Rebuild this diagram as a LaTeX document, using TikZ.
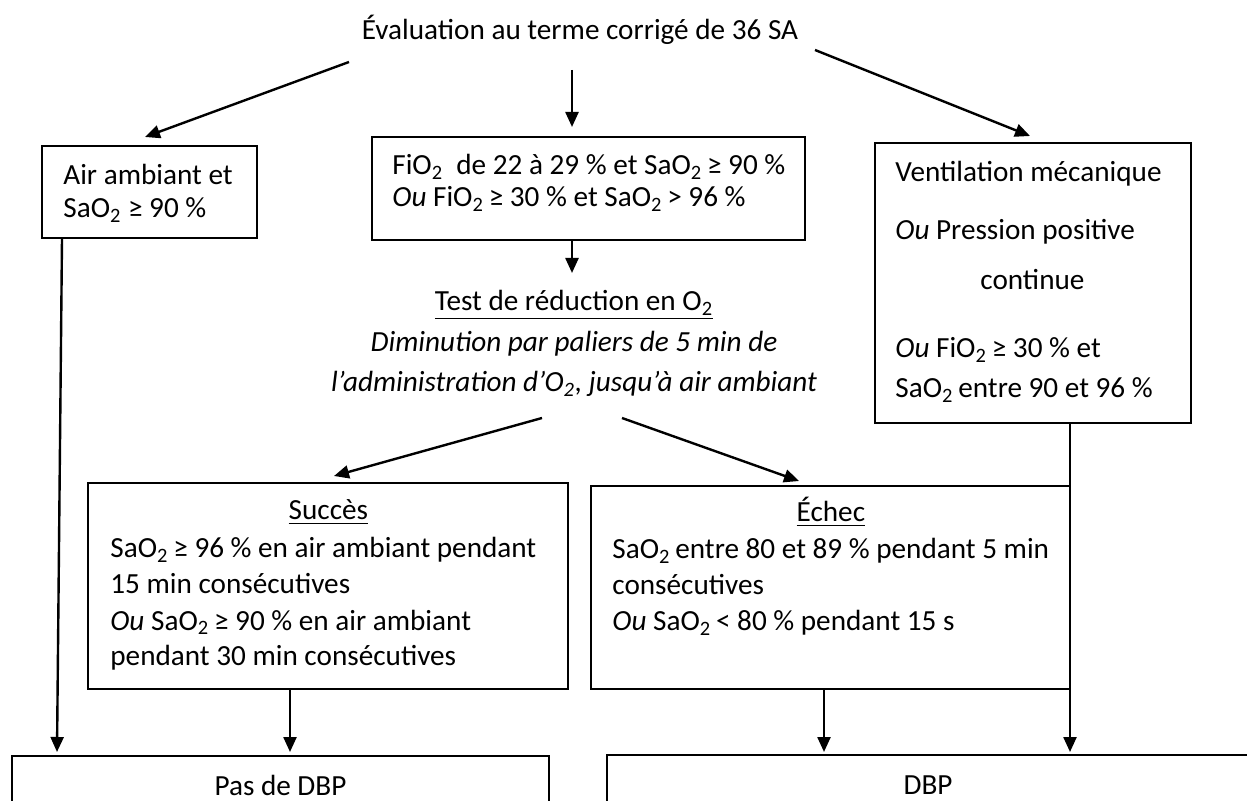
\documentclass[tikz,border=0pt]{standalone}
\usepackage{fontspec}
\setmainfont{Carlito}
\usetikzlibrary{arrows.meta, calc}

\tikzset{
  box/.style={draw, line width=1pt, inner sep=0pt},
  txt/.style={inner sep=0pt, anchor=base west, align=left, text width=#1,
    execute at begin node={\spaceskip=0pt\xspaceskip=0pt}},
  txt/.default=250pt,
  midtxt/.style={txt=280pt, anchor=base, align=center,
    execute at begin node={\spaceskip=0pt\xspaceskip=0pt\leftskip=0pt plus 1fil\rightskip=0pt plus 1fil}},
  flow/.style={line width=1.2pt, -{Triangle[length=7.5pt, width=6.5pt]}},
}

\begin{document}
\begin{tikzpicture}[x=0.5pt, y=-0.5pt, every node/.append style={font={\fontsize{14.6pt}{18pt}\selectfont}}]
  \useasboundingbox (0,0) rectangle (1247,801);

  % Start
  \node[inner sep=0pt, anchor=base] (eval) at (580,40) {Évaluation au terme corrigé de 36 SA};

  % First level
  \node[box, minimum width=107.5pt, minimum height=46pt] (airbox) at (149.5,192) {};
  \node[txt] (airtxt) at (63,185) {Air ambiant et\\[-1.5pt]SaO\textsubscript{2} ≥ 90 \%};

  \node[box, minimum width=216.5pt, minimum height=51.5pt] (fiobox) at (588.5,188.5) {};
  \node[txt] (fiotxt) at (392,175) {FiO\textsubscript{2}\ \ de 22 à 29 \% et SaO\textsubscript{2}\,≥ 90 \%\\[-2pt]\textit{Ou} FiO\textsubscript{2}\,≥ 30 \% et SaO\textsubscript{2}\,> 96 \%};

  \node[box, minimum width=158pt, minimum height=140pt] (ventbox) at (1033,283) {};
  \node[txt] (venttxt) at (895,182) {Ventilation mécanique\\[11pt]\textit{Ou} Pression positive\\[7pt]\hspace*{42.5pt}continue\\[16pt]\textit{Ou} FiO\textsubscript{2}\,≥ 30 \% et\\[2pt]SaO\textsubscript{2}\,entre 90 et 96 \%};

  % Reduction test
  \node[midtxt] (testtxt) at (574,311) {\underline{Test de réduction en O\textsubscript{2}}\\[2.5pt]\textit{Diminution par paliers de 5 min de}\\[2pt]\textit{l’administration d’O\textsubscript{2}, jusqu’à air ambiant}};

  % Outcomes
  \node[box, minimum width=240pt, minimum height=103pt] (okbox) at (328,586) {};
  \node[txt] (oktxt) at (110,520) {\makebox[218pt]{\underline{Succès}}\\[1pt]SaO\textsubscript{2}\,≥ 96 \% en air ambiant pendant\\15 min consécutives\\\textit{Ou} SaO\textsubscript{2}\,≥ 90 \% en air ambiant\\pendant 30 min consécutives};

  \node[box, minimum width=239.5pt, minimum height=101.5pt] (failbox) at (830.5,587.5) {};
  \node[txt] (failtxt) at (612,522) {\makebox[218.5pt]{\underline{Échec}}\\[0.5pt]SaO\textsubscript{2}\,entre 80 et 89 \% pendant 5 min\\consécutives\\\textit{Ou} SaO\textsubscript{2}\,< 80 \% pendant 15 s};

  % Diagnosis
  \node[box, anchor=north, minimum width=268.5pt, text height=19.5pt, text depth=20pt] (nobpd) at (280.5,755) {Pas de DBP};
  \node[box, anchor=north, minimum width=321pt, text height=19.5pt, text depth=20pt] (bpd) at (928,754) {DBP};

  % Arrows
  \draw[flow] ($(eval.base)+(-231,22)$) -- ($(airbox.north)+(-4.5,-8)$);
  \draw[flow] ($(eval.base)+(-8,30)$) -- ($(fiobox.north)+(-16.5,-9)$);
  \draw[flow] ($(eval.base)+(235,10)$) -- ($(ventbox.north)+(-3,-6)$);
  \draw[flow] ($(fiobox.south)+(-16.5,0)$) -- ($(testtxt.base)+(-2,-38)$);
  \draw[flow] ($(testtxt.base)+(-32,107)$) -- ($(okbox.north)+(6,-6)$);
  \draw[flow] ($(testtxt.base)+(48,107)$) -- ($(failbox.north)+(-31.5,-4)$);
  \draw[flow] ($(airbox.south)+(-87.5,0)$) -- ($(nobpd.north)+(-223.5,-3)$);
  \draw[flow] ($(okbox.south)+(-38,0)$) -- ($(nobpd.north)+(9.5,-3)$);
  \draw[flow] ($(failbox.south)+(-6.5,0)$) -- ($(bpd.north)+(-104,-2)$);
  \draw[flow] ($(ventbox.south)+(37,0)$) -- ($(bpd.north)+(142,-2)$);
\end{tikzpicture}
\end{document}
